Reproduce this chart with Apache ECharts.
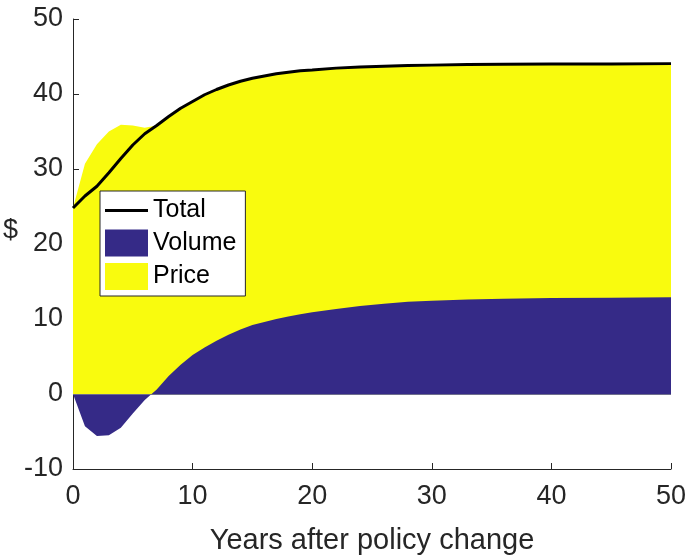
<!DOCTYPE html>
<html>
<head>
<meta charset="utf-8">
<script src="https://cdn.jsdelivr.net/npm/echarts@6/dist/echarts.min.js"></script>
<style>
  html, body { margin: 0; padding: 0; background: #ffffff; }
  #chart { width: 691px; height: 555px; }
</style>
</head>
<body>
<div id="chart"></div>
<script>
// Years after the policy change
const years = [0, 1, 2, 3, 4, 5, 6, 7, 8, 9, 10, 11, 12, 13, 14, 15, 16, 17, 18, 19, 20,
               22, 24, 26, 28, 30, 33, 36, 40, 45, 50];
// Volume effect ($)
const volume = [0, -4.3, -5.6, -5.5, -4.5, -2.6, -0.8, 0.6, 2.4, 3.9, 5.2, 6.2, 7.1, 7.9, 8.6, 9.2, 9.6, 10.0, 10.35, 10.65, 10.9,
                11.35, 11.75, 12.05, 12.3, 12.45, 12.6, 12.7, 12.8, 12.85, 12.9];
// Price effect ($)
const price = [24.8, 30.7, 33.3, 35.0, 35.9, 35.8, 35.5, 35.2, 34.6, 34.2, 33.8, 33.7, 33.5, 33.3, 33.1, 32.9, 32.8, 32.7, 32.55, 32.45, 32.3,
               32.1, 31.85, 31.65, 31.5, 31.4, 31.32, 31.27, 31.2, 31.15, 31.15];
// Total = volume + price
const total = volume.map((v, i) => +(v + price[i]).toFixed(2));
// Price band sits on top of the positive part of the volume band
const priceTop = price.map((p, i) => +(Math.max(volume[i], 0) + p).toFixed(2));

const xTicks = { min: 0, max: 50, interval: 10 };
const yTicks = { min: -10, max: 50, interval: 10 };

const pairs = arr => years.map((x, i) => [x, arr[i]]);

const axisColor = '#262626';
const fontFamily = 'Liberation Sans, Arial, Helvetica, sans-serif';

const chart = echarts.init(document.getElementById('chart'), null, { renderer: 'canvas' });

chart.setOption({
  animation: false,
  backgroundColor: '#ffffff',
  grid: { left: 73, right: 20, top: 19, bottom: 86, containLabel: false, outerBoundsMode: 'none' },
  xAxis: {
    type: 'value',
    min: xTicks.min, max: xTicks.max, interval: xTicks.interval,
    name: 'Years after policy change',
    nameLocation: 'middle',
    nameGap: 57,
    nameTextStyle: { fontSize: 29, color: axisColor, fontFamily },
    axisLine: { show: true, onZero: false, lineStyle: { color: axisColor, width: 1 } },
    axisTick: { show: true, inside: true, length: 6, lineStyle: { color: axisColor } },
    axisLabel: { fontSize: 27, color: axisColor, fontFamily, margin: 14 },
    splitLine: { show: false }
  },
  yAxis: {
    type: 'value',
    min: yTicks.min, max: yTicks.max, interval: yTicks.interval,
    name: '$',
    nameLocation: 'middle',
    nameGap: 45,
    nameRotate: 0,
    nameTextStyle: { fontSize: 27, color: axisColor, fontFamily, verticalAlign: 'bottom' },
    axisLine: { show: true, onZero: false, lineStyle: { color: axisColor, width: 1 } },
    axisTick: { show: true, inside: true, length: 6, lineStyle: { color: axisColor } },
    axisLabel: { fontSize: 27, color: axisColor, fontFamily, margin: 10 },
    splitLine: { show: false }
  },
  legend: {
    orient: 'vertical',
    left: 100,
    top: 191,
    backgroundColor: '#ffffff',
    borderColor: axisColor,
    borderWidth: 1,
    padding: [7, 9, 6, 5],
    itemWidth: 43,
    itemHeight: 27,
    itemGap: 6.5,
    selectedMode: false,
    textStyle: { fontSize: 25, color: '#000000', fontFamily },
    data: [
      { name: 'Total', icon: 'path://M0,0H43V3H0Z', itemStyle: { color: '#000000', borderWidth: 0 } },
      { name: 'Volume', icon: 'rect', itemStyle: { color: '#352A87', borderWidth: 0 } },
      { name: 'Price', icon: 'rect', itemStyle: { color: '#F9FB0E', borderWidth: 0 } }
    ]
  },
  series: [
    {
      name: 'Price',
      type: 'line',
      data: pairs(priceTop),
      color: '#F9FB0E',
      symbol: 'none',
      showSymbol: false,
      lineStyle: { width: 0 },
      areaStyle: { color: '#F9FB0E', opacity: 1, origin: 0 },
      z: 2
    },
    {
      name: 'Volume',
      type: 'line',
      data: pairs(volume),
      color: '#352A87',
      symbol: 'none',
      showSymbol: false,
      lineStyle: { width: 0 },
      areaStyle: { color: '#352A87', opacity: 1, origin: 0 },
      markLine: {
        silent: true,
        symbol: 'none',
        label: { show: false },
        lineStyle: { color: '#6e6e8c', width: 1, type: 'solid' },
        data: [{ yAxis: 0 }]
      },
      z: 3
    },
    {
      name: 'Total',
      type: 'line',
      data: pairs(total),
      color: '#000000',
      symbol: 'none',
      showSymbol: false,
      lineStyle: { color: '#000000', width: 3 },
      z: 5
    }
  ]
});
</script>
</body>
</html>
